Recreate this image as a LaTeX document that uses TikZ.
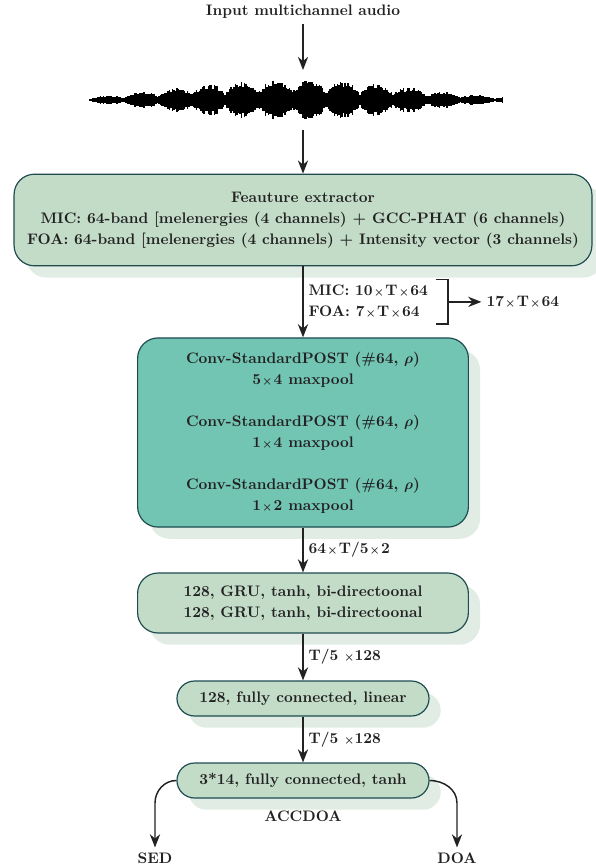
\documentclass[tikz,border=0pt]{standalone}
\usetikzlibrary{positioning,arrows.meta,shadows}
\definecolor{boxgreen}{HTML}{C3DCC7}
\definecolor{convteal}{HTML}{73C5B3}
\definecolor{edgeteal}{HTML}{1D4B50}
\definecolor{shadowgreen}{HTML}{E1EDE4}
\definecolor{linegrey}{HTML}{222222}
\newcommand{\xby}{\hspace{0.8pt}{\scriptsize$\times$}\hspace{0.8pt}}
\tikzset{node distance=1cm, auto,
  every node/.style={font=\fontsize{10.4}{14.3}\selectfont\bfseries\boldmath, align=center, text=linegrey},
  flow/.style={-{Stealth[length=9pt,width=7pt]}, line width=1pt, linegrey},
  blockbox/.style={draw=edgeteal, thick, fill=boxgreen, rounded corners=14pt,
    drop shadow={shadow xshift=8pt, shadow yshift=-8pt, fill=shadowgreen, opacity=1}},
  pillbox/.style={blockbox, rounded corners=12pt}}

\begin{document}
\begin{tikzpicture}[x=0.024cm, y=-0.024cm]
  \useasboundingbox (0,0) rectangle (595,867);

  \node (in) at (303,12) {Input multichannel audio};
  \coordinate (wavetop) at (303,70);
  \coordinate (wavebot) at (303,130);

  % waveform
  \pgfmathsetseed{7}
  \foreach \i in {0,...,275}{
    \pgfmathsetmacro\ss{max(abs(sin(0.6522*(\i+1.33))),0.05)}
    \pgfmathsetmacro\env{3+15*sqrt(\ss)*\ss}
    \pgfmathsetmacro\amp{\env*sqrt(0.15+0.85*abs(sin(\i*8)))*(0.8+0.35*rnd)}
    \fill[black] (90+1.5*\i-0.95,100-\amp) rectangle (90+1.5*\i+0.95,100+\amp);
  }

  \node (feat) [blockbox, minimum width=13.87cm, minimum height=2.2cm] at (303,220)
    {Feauture extractor\\
     MIC: 64-band [melenergies (4 channels) + GCC-PHAT (6 channels)\\
     FOA: 64-band [melenergies (4 channels) + Intensity vector (3 channels)};

  \node (conv) [blockbox, fill=convteal, minimum width=7.94cm, minimum height=4.54cm] at (303,432.5)
    {Conv-StandardPOST (\#64, $\rho$)\\ 5\xby4 maxpool\\[14.3pt]
     Conv-StandardPOST (\#64, $\rho$)\\ 1\xby4 maxpool\\[14.3pt]
     Conv-StandardPOST (\#64, $\rho$)\\ 1\xby2 maxpool};

  \node (gru) [blockbox, minimum width=7.94cm, minimum height=1.44cm] at (303,603)
    {128, GRU, tanh, bi-directoonal\\ 128, GRU, tanh, bi-directoonal};

  \node (fc1) [pillbox, minimum width=6.05cm, minimum height=0.84cm] at (303,698.5)
    {128, fully connected, linear};
  \node (fc2) [pillbox, minimum width=6.05cm, minimum height=0.84cm] at (303,780.5)
    {3*14, fully connected, tanh};
  \node (acc) [below=5pt of fc2] {ACCDOA};

  \node (sed) at (155,858) {SED};
  \node (doa) at (457,858) {DOA};
  \coordinate (sedbend) at (155,803);
  \coordinate (doabend) at (457,803);

  \draw[flow] (in) -- (wavetop);
  \draw[flow] (wavebot) -- (feat);
  \draw[flow] (feat) to node (dims) [align=left] {MIC: 10\xby T\xby64\\ FOA: 7\xby T\xby64} (conv);
  \draw[flow] (conv) to node {64\xby T/5\xby2} (gru);
  \draw[flow] (gru) to node {T/5 {\scriptsize$\times$}128} (fc1);
  \draw[flow] (fc1) to node {T/5 {\scriptsize$\times$}128} (fc2);

  % bracket to the sum
  \coordinate (br) at ([xshift=0.35cm]dims.east);
  \draw[line width=1pt, linegrey] ([xshift=0.05cm]dims.north east) -| (br) |- ([xshift=0.05cm]dims.south east);
  \node (tot) [right=0.8cm of br] {17\xby T\xby64};
  \draw[flow] (br) -- (tot);

  \draw[flow] (fc2.west) to[out=180,in=90] (sedbend) -- (sed);
  \draw[flow] (fc2.east) to[out=0,in=90] (doabend) -- (doa);
\end{tikzpicture}
\end{document}
